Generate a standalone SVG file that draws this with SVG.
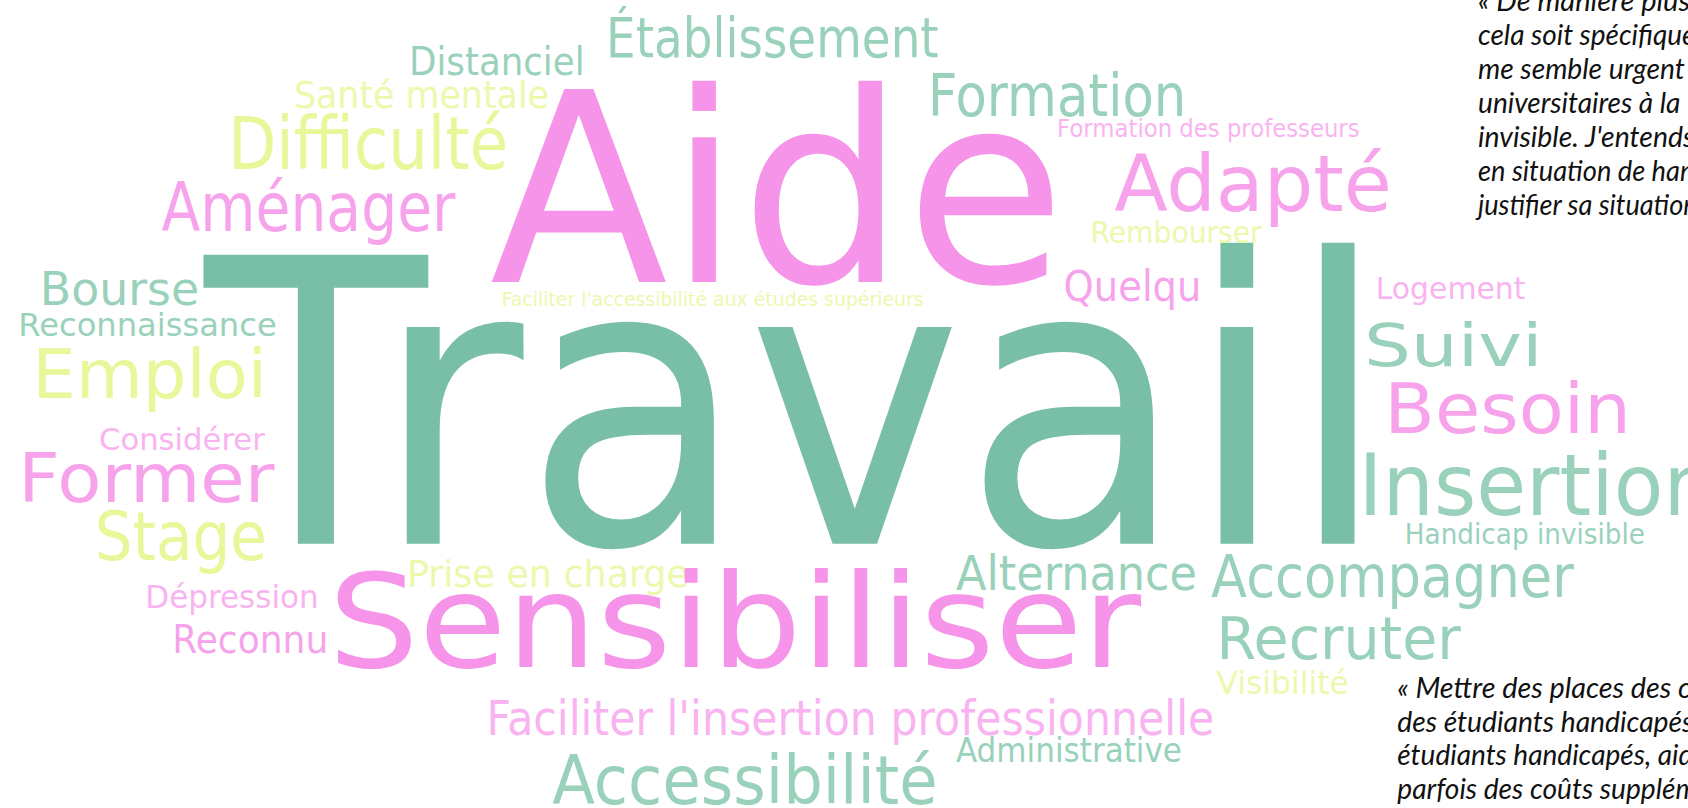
<svg xmlns="http://www.w3.org/2000/svg" width="1688" height="808" viewBox="0 0 1688 808">
<style>
text.w{font-family:"DejaVu Sans","Liberation Sans",sans-serif;font-weight:normal}
text.q{font-family:Lato,"Open Sans","Liberation Sans",sans-serif;font-style:italic;font-size:27px;fill:#111}
.dg{fill:#79bfa7}
.g{fill:#99d1bb}
.pk{fill:#f594e8}
.p{fill:#f7a3ec}
.pl{fill:#f9b3f0}
.y{fill:#e8f799}
.yl{fill:#edf8ad}
</style>
<rect width="1688" height="808" fill="#ffffff"/>
<g transform="scale(1.0765)">
<g id="cloud">
<g id="w-aide"><text class="w pk" x="455" y="262" font-size="246" textLength="535" lengthAdjust="spacingAndGlyphs">Aide</text></g>
<g id="w-travail"><text class="w dg" x="190" y="505" font-size="368" textLength="1100" lengthAdjust="spacingAndGlyphs">Travail</text></g>
<g id="w-etablissement"><text class="w g" x="563" y="53" font-size="52" textLength="309" lengthAdjust="spacingAndGlyphs">Établissement</text></g>
<g id="w-distanciel"><text class="w g" x="380" y="70" font-size="37" textLength="163" lengthAdjust="spacingAndGlyphs">Distanciel</text></g>
<g id="w-sante"><text class="w yl" x="273" y="100" font-size="34" textLength="237" lengthAdjust="spacingAndGlyphs">Santé mentale</text></g>
<g id="w-difficulte"><text class="w y" x="212" y="157" font-size="67" textLength="260" lengthAdjust="spacingAndGlyphs">Difficulté</text></g>
<g id="w-amenager"><text class="w p" x="150" y="215" font-size="62" textLength="273" lengthAdjust="spacingAndGlyphs">Aménager</text></g>
<g id="w-formation"><text class="w g" x="862" y="108" font-size="55" textLength="240" lengthAdjust="spacingAndGlyphs">Formation</text></g>
<g id="w-formprof"><text class="w pl" x="982" y="127" font-size="23" textLength="281" lengthAdjust="spacingAndGlyphs">Formation des professeurs</text></g>
<g id="w-adapte"><text class="w p" x="1035" y="196" font-size="73" textLength="258" lengthAdjust="spacingAndGlyphs">Adapté</text></g>
<g id="w-rembourser"><text class="w yl" x="1013" y="226" font-size="28" textLength="159" lengthAdjust="spacingAndGlyphs">Rembourser</text></g>
<g id="w-quelqu"><text class="w p" x="988" y="280" font-size="40" textLength="128" lengthAdjust="spacingAndGlyphs">Quelqu</text></g>
<g id="w-bourse"><text class="w g" x="37" y="283" font-size="43" textLength="148" lengthAdjust="spacingAndGlyphs">Bourse</text></g>
<g id="w-reconnaissance"><text class="w g" x="17" y="312" font-size="30" textLength="240" lengthAdjust="spacingAndGlyphs">Reconnaissance</text></g>
<g id="w-facacc"><text class="w yl" x="466" y="284" font-size="18" textLength="392" lengthAdjust="spacingAndGlyphs">Faciliter l'accessibilité aux études supérieurs</text></g>
<g id="w-emploi"><text class="w y" x="30" y="370" font-size="62" textLength="218" lengthAdjust="spacingAndGlyphs">Emploi</text></g>
<g id="w-considerer"><text class="w pl" x="92" y="418" font-size="28" textLength="154" lengthAdjust="spacingAndGlyphs">Considérer</text></g>
<g id="w-former"><text class="w p" x="17" y="466" font-size="63" textLength="238" lengthAdjust="spacingAndGlyphs">Former</text></g>
<g id="w-stage"><text class="w y" x="88" y="520" font-size="62" textLength="160" lengthAdjust="spacingAndGlyphs">Stage</text></g>
<g id="w-depression"><text class="w pl" x="135" y="565" font-size="30" textLength="161" lengthAdjust="spacingAndGlyphs">Dépression</text></g>
<g id="w-reconnu"><text class="w p" x="160" y="607" font-size="37" textLength="145" lengthAdjust="spacingAndGlyphs">Reconnu</text></g>
<g id="w-prise"><text class="w yl" x="378" y="545" font-size="34" textLength="262" lengthAdjust="spacingAndGlyphs">Prise en charge</text></g>
<g id="w-sensibiliser"><text class="w pk" x="305" y="620" font-size="121" textLength="755" lengthAdjust="spacingAndGlyphs">Sensibiliser</text></g>
<g id="w-alternance"><text class="w g" x="888" y="548" font-size="44" textLength="224" lengthAdjust="spacingAndGlyphs">Alternance</text></g>
<g id="w-accompagner"><text class="w g" x="1125" y="555" font-size="55" textLength="337" lengthAdjust="spacingAndGlyphs">Accompagner</text></g>
<g id="w-recruter"><text class="w g" x="1130" y="612" font-size="55" textLength="227" lengthAdjust="spacingAndGlyphs">Recruter</text></g>
<g id="w-visibilite"><text class="w yl" x="1130" y="645" font-size="30" textLength="123" lengthAdjust="spacingAndGlyphs">Visibilité</text></g>
<g id="w-facins"><text class="w pl" x="452" y="683" font-size="45" textLength="676" lengthAdjust="spacingAndGlyphs">Faciliter l'insertion professionnelle</text></g>
<g id="w-administrative"><text class="w g" x="888" y="708" font-size="32" textLength="210" lengthAdjust="spacingAndGlyphs">Administrative</text></g>
<g id="w-accessibilite"><text class="w g" x="513" y="747" font-size="62" textLength="358" lengthAdjust="spacingAndGlyphs">Accessibilité</text></g>
<g id="w-logement"><text class="w pl" x="1278" y="278" font-size="28" textLength="139" lengthAdjust="spacingAndGlyphs">Logement</text></g>
<g id="w-suivi"><text class="w g" x="1267" y="340" font-size="55" textLength="166" lengthAdjust="spacingAndGlyphs">Suivi</text></g>
<g id="w-besoin"><text class="w p" x="1286" y="402" font-size="64" textLength="229" lengthAdjust="spacingAndGlyphs">Besoin</text></g>
<g id="w-insertion"><text class="w g" x="1262" y="478" font-size="80" textLength="331" lengthAdjust="spacingAndGlyphs">Insertion</text></g>
<g id="w-handicap"><text class="w g" x="1305" y="505" font-size="27" textLength="223" lengthAdjust="spacingAndGlyphs">Handicap invisible</text></g>
</g>
<g id="quote-top">
<text class="q" x="1373" y="10" textLength="197" lengthAdjust="spacingAndGlyphs">« De manière plus</text>
<text class="q" x="1373" y="42" textLength="202" lengthAdjust="spacingAndGlyphs">cela soit spécifique</text>
<text class="q" x="1373" y="73" textLength="192" lengthAdjust="spacingAndGlyphs">me semble urgent</text>
<text class="q" x="1373" y="105" textLength="188" lengthAdjust="spacingAndGlyphs">universitaires à la</text>
<text class="q" x="1373" y="137" textLength="201" lengthAdjust="spacingAndGlyphs">invisible. J'entends</text>
<text class="q" x="1373" y="168" textLength="201" lengthAdjust="spacingAndGlyphs">en situation de han</text>
<text class="q" x="1373" y="200" textLength="204" lengthAdjust="spacingAndGlyphs">justifier sa situation</text>
</g>
<g id="quote-bottom">
<text class="q" x="1298" y="648" textLength="273" lengthAdjust="spacingAndGlyphs">« Mettre des places des c</text>
<text class="q" x="1298" y="680" textLength="275" lengthAdjust="spacingAndGlyphs">des étudiants handicapés</text>
<text class="q" x="1298" y="711" textLength="275" lengthAdjust="spacingAndGlyphs">étudiants handicapés, aid</text>
<text class="q" x="1298" y="742" textLength="279" lengthAdjust="spacingAndGlyphs">parfois des coûts supplém</text>
</g>
</g>
</svg>
